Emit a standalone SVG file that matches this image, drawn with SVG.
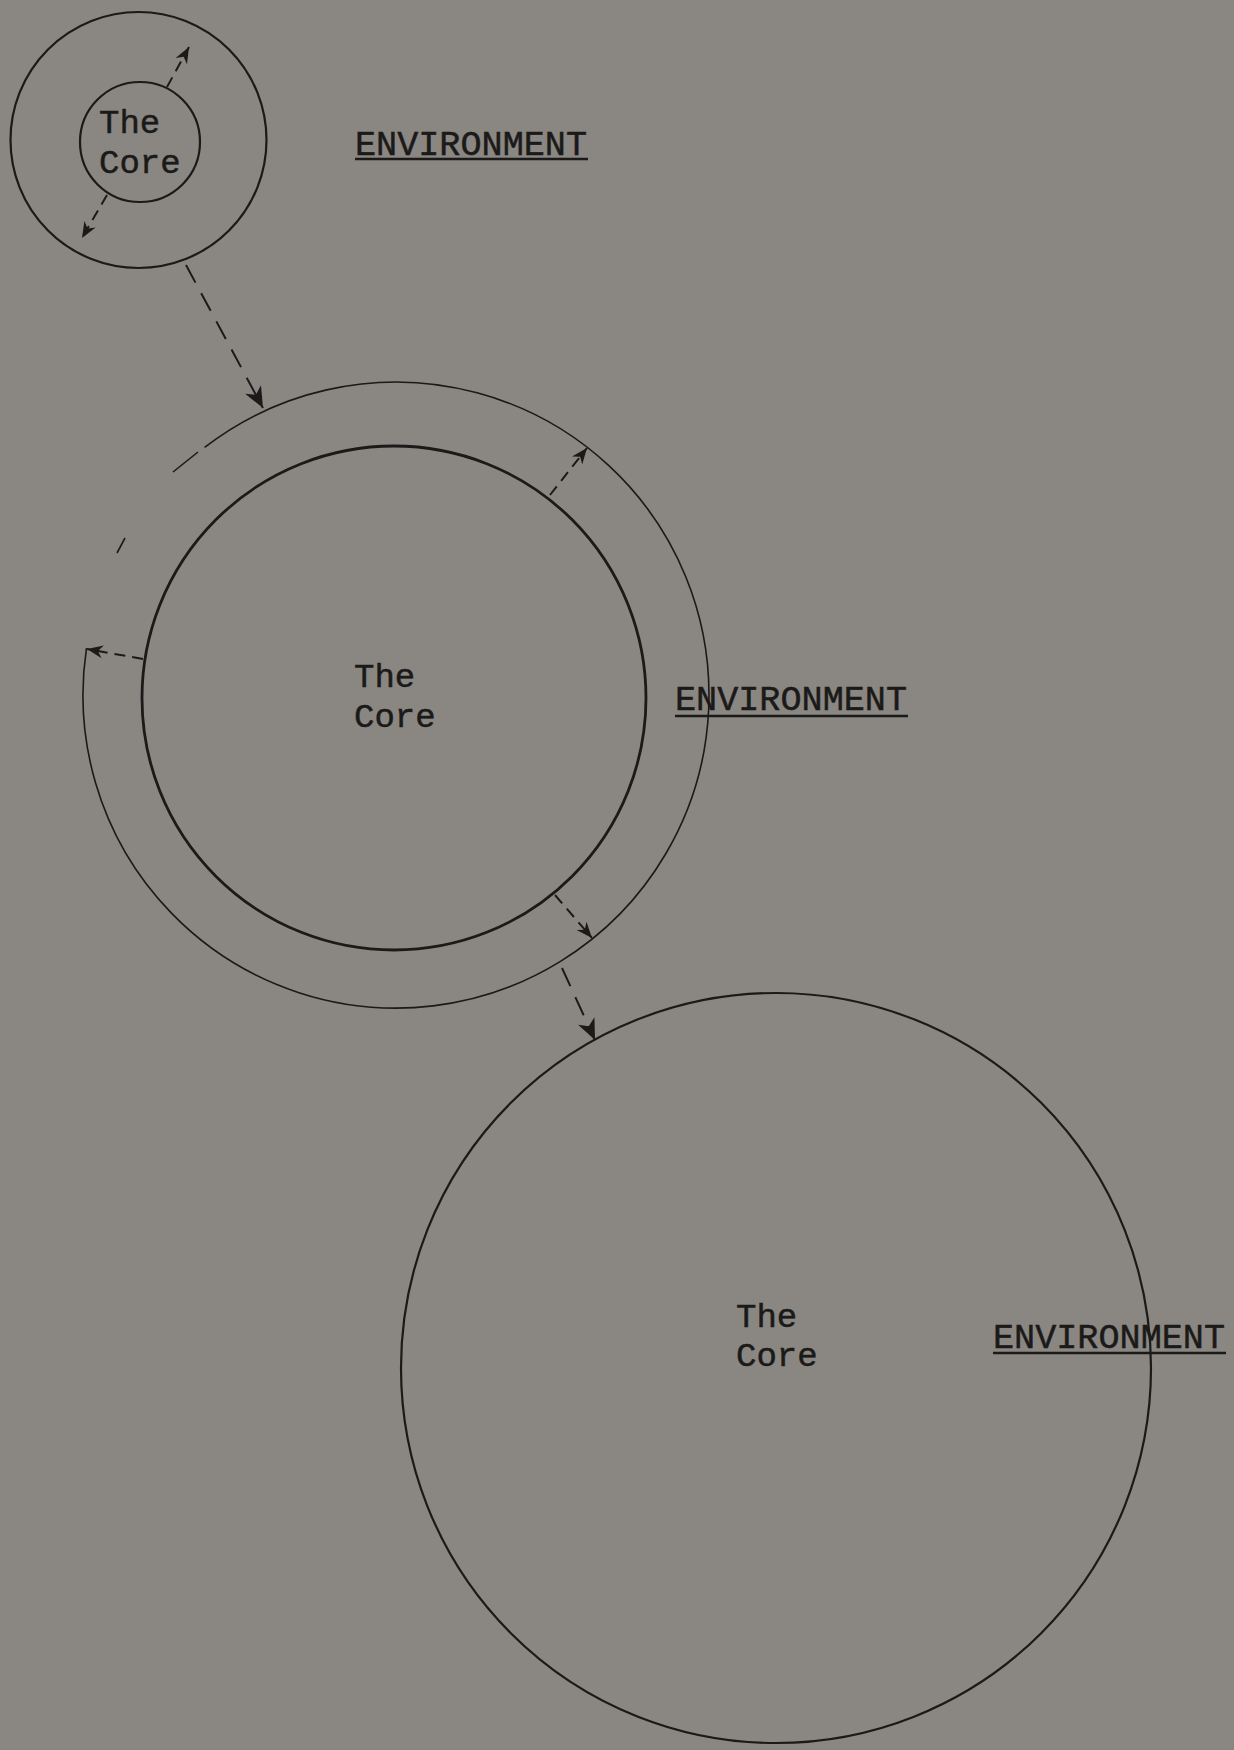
<svg xmlns="http://www.w3.org/2000/svg" width="1234" height="1750" viewBox="0 0 1234 1750">
<style>
.bg{fill:#8a8782}
.ln{fill:none;stroke:#1b1a19}
.thin{stroke-width:1.6}
.mid{stroke-width:2.2}
.thick{stroke-width:2.8}
.lbl{font-family:"Liberation Mono","DejaVu Sans Mono",monospace;font-size:34px;fill:#1b1a19;stroke:#1b1a19;stroke-width:0.5}
.env{font-family:"Liberation Mono","DejaVu Sans Mono",monospace;font-size:35px;fill:#1b1a19;stroke:#1b1a19;stroke-width:0.5}
.ul{stroke:#1b1a19;stroke-width:2.6}
.dash{fill:none;stroke:#1b1a19;stroke-width:2;stroke-dasharray:11 7}
.dashL{fill:none;stroke:#1b1a19;stroke-width:2;stroke-dasharray:20 12}
</style>
<defs>
<marker id="ah" markerUnits="userSpaceOnUse" markerWidth="22" markerHeight="18" refX="21" refY="9" orient="auto" overflow="visible">
<path d="M0,0 L21,9 L0,18 L6,9 z" fill="#1b1a19"/>
</marker>
<marker id="ahs" markerUnits="userSpaceOnUse" markerWidth="17" markerHeight="13" refX="16" refY="6.5" orient="auto" overflow="visible">
<path d="M0,0 L16,6.5 L0,13 L5,6.5 z" fill="#1b1a19"/>
</marker>
</defs>
<rect class="bg" x="0" y="0" width="1234" height="1750"/>

<g id="small-environment">
<circle class="ln mid" cx="138.5" cy="140" r="128"/>
<text class="env" x="355" y="155" textLength="232" lengthAdjust="spacingAndGlyphs">ENVIRONMENT</text>
<line class="ul" x1="355" y1="159" x2="588" y2="159"/>
</g>
<g id="small-core">
<circle class="ln mid" cx="140" cy="142" r="60"/>
<text class="lbl" x="99" y="133">The</text>
<text class="lbl" x="99" y="173">Core</text>
</g>

<g id="middle-environment">
<path class="ln thin" d="M86.5 648.2 A313 313 0 1 0 204.6 447.4"/>
<line class="ln thin" x1="173" y1="472" x2="198" y2="452"/>
<line class="ln thin" x1="117" y1="553" x2="125" y2="538"/>
<text class="env" x="675" y="710" textLength="232" lengthAdjust="spacingAndGlyphs">ENVIRONMENT</text>
<line class="ul" x1="675" y1="716" x2="908" y2="716"/>
</g>
<g id="middle-core">
<circle class="ln thick" cx="394" cy="698" r="252"/>
<text class="lbl" x="354" y="687">The</text>
<text class="lbl" x="354" y="727">Core</text>
</g>

<g id="large-core">
<circle class="ln mid" cx="776" cy="1368" r="375"/>
<text class="lbl" x="736" y="1327">The</text>
<text class="lbl" x="736" y="1366">Core</text>
</g>
<g id="large-environment">
<text class="env" x="993" y="1348" textLength="232" lengthAdjust="spacingAndGlyphs">ENVIRONMENT</text>
<line class="ul" x1="993" y1="1353" x2="1226" y2="1353"/>
</g>

<g id="connectors">
<path class="dash" d="M167 87 L189 47" marker-end="url(#ahs)"/>
<path class="dash" d="M107 195 L82 238" marker-end="url(#ahs)"/>
<path class="dashL" d="M186 265 L263 408" marker-end="url(#ah)"/>
<path class="dash" d="M550 495 L587 448" marker-end="url(#ahs)"/>
<path class="dash" d="M143 659 L87 649" marker-end="url(#ahs)"/>
<path class="dash" d="M555 895 L592 938" marker-end="url(#ahs)"/>
<path class="dashL" d="M562 968 L595 1040" marker-end="url(#ah)"/>
</g>
</svg>
